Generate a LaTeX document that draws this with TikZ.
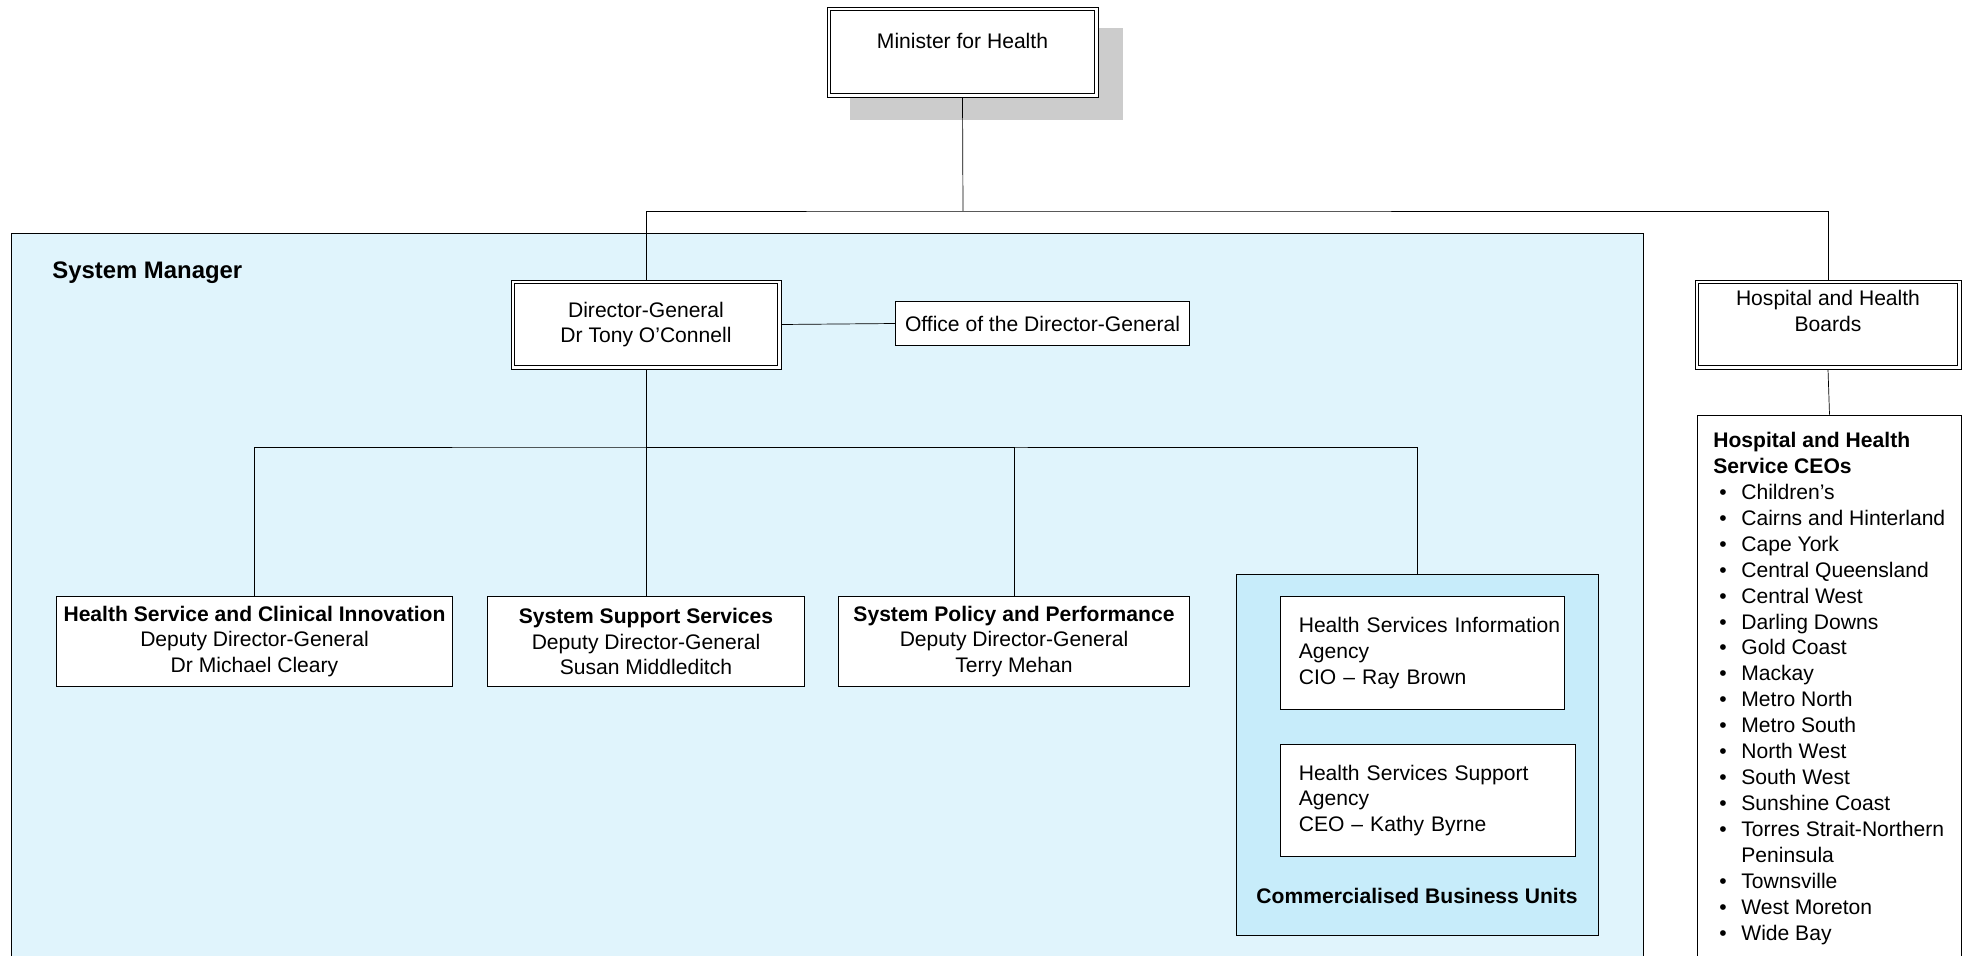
\documentclass[tikz,border=0pt]{standalone}
\usepackage{fontspec}
\setmainfont{Liberation Sans}
\definecolor{fondbleu}{RGB}{224,244,252}
\definecolor{fondcbu}{RGB}{199,236,250}
\definecolor{ombre}{RGB}{204,204,204}
\newcommand{\puce}{\makebox[5.6mm][l]{\hspace{1.2mm}\textbullet}}
\pgfdeclarelayer{fond}
\pgfdeclarelayer{liens}
\pgfsetlayers{fond,liens,main}
\begin{document}
\begin{tikzpicture}[x=0.02cm, y=-0.02cm, line width=1.1pt,
    texte/.style={font=\fontsize{12}{14.6}\selectfont},
    boite/.style={texte, draw=black, fill=white, align=center, inner sep=0pt},
    boitegauche/.style={boite, align=left, inner xsep=0pt, execute at begin node={\leftskip=3.6mm}}]
    \useasboundingbox (0,0) rectangle (1968,956);

    \begin{pgfonlayer}{fond}
        \draw[fill=fondbleu] (11,233) rectangle (1643,975); % System Manager
        \fill[ombre] (850,28) rectangle (1123,120); % ombre du ministre
    \end{pgfonlayer}
    \node[anchor=west, inner sep=0pt, font=\fontsize{13.6}{16}\selectfont] (sm) at (52,273) {\textbf{System Manager}};

    \node[boite, minimum width=5.42cm, minimum height=1.80cm] (min) at (962.5,52) {Minister for Health\\[-2.2mm] \strut}; % Ministre
    \node[boite, minimum width=5.40cm, minimum height=1.78cm] (dg) at (646,324.5) {Director-General\\Dr Tony O’Connell}; % DG
    \node[boite, minimum width=5.87cm, minimum height=0.87cm] (bureau) at (1042.5,323.5) {Office of the Director-General};
    \node[boite, minimum width=5.32cm, minimum height=1.78cm] (conseils) at (1828,324.5) {Hospital and Health\\Boards\\[-1.2mm] \strut};
    % double cadre
    \foreach \n in {min,dg,conseils}
        \draw ([shift={(4,4)}]\n.north west) rectangle ([shift={(-4,-4)}]\n.south east);

    % les trois divisions
    \node[boite, minimum width=7.91cm, minimum height=1.79cm] (hsci) at (254.5,641.5) {\textbf{Health Service and Clinical Innovation}\\Deputy Director-General\\Dr Michael Cleary};
    \node[boite, minimum width=6.33cm, minimum height=1.79cm] (sss) at (646,641.5) {\textbf{System Support Services}\\Deputy Director-General\\Susan Middleditch};
    \node[boite, minimum width=7.01cm, minimum height=1.79cm] (spp) at (1014,641.5) {\textbf{System Policy and Performance}\\Deputy Director-General\\Terry Mehan};

    % unites commerciales
    \node[boite, fill=fondcbu, minimum width=7.23cm, minimum height=7.21cm] (cbu) at (1417.5,755) {};
    \node[boitegauche, text width=5.67cm, minimum height=2.25cm] (hsia) at (1422.5,653) {Health Services Information\\Agency\\CIO – Ray Brown};
    \node[boitegauche, text width=5.89cm, minimum height=2.23cm] (hssa) at (1428,800.5) {Health Services Support\\Agency\\CEO – Kathy Byrne};
    \node[texte] (cbutitre) at (1417,896) {\textbf{Commercialised Business Units}};

    % liste des CEO
    \node[boite, anchor=north, minimum width=5.27cm, minimum height=11.8cm] (ceo) at (1829.5,414.7) {};
    \node[anchor=north west, align=left, inner sep=0pt, font=\fontsize{12}{14.75}\selectfont] (listeceo) at (1713,432) {\textbf{Hospital and Health}\\\textbf{Service CEOs}\\
        \puce Children’s\\ \puce Cairns and Hinterland\\ \puce Cape York\\ \puce Central Queensland\\
        \puce Central West\\ \puce Darling Downs\\ \puce Gold Coast\\ \puce Mackay\\
        \puce Metro North\\ \puce Metro South\\ \puce North West\\ \puce South West\\
        \puce Sunshine Coast\\ \puce Torres Strait-Northern\\ \hspace*{5.6mm}Peninsula\\
        \puce Townsville\\ \puce West Moreton\\ \puce Wide Bay};

    \coordinate (barre) at (963,211);
    \coordinate (branche) at (646,447);
    \begin{pgfonlayer}{liens}
        \draw (min.south) -- (barre);
        \draw (dg.north) |- (barre) -| (conseils.north);
        \draw (dg.east) -- (bureau.west);
        \draw (dg.south) -- (branche);
        \draw (hsci.north) |- (branche) -| (cbu.north);
        \draw (sss.north) -- (branche);
        \draw (spp.north) |- (branche);
        \draw (conseils.south) -- (ceo.north);
    \end{pgfonlayer}
\end{tikzpicture}
\end{document}
